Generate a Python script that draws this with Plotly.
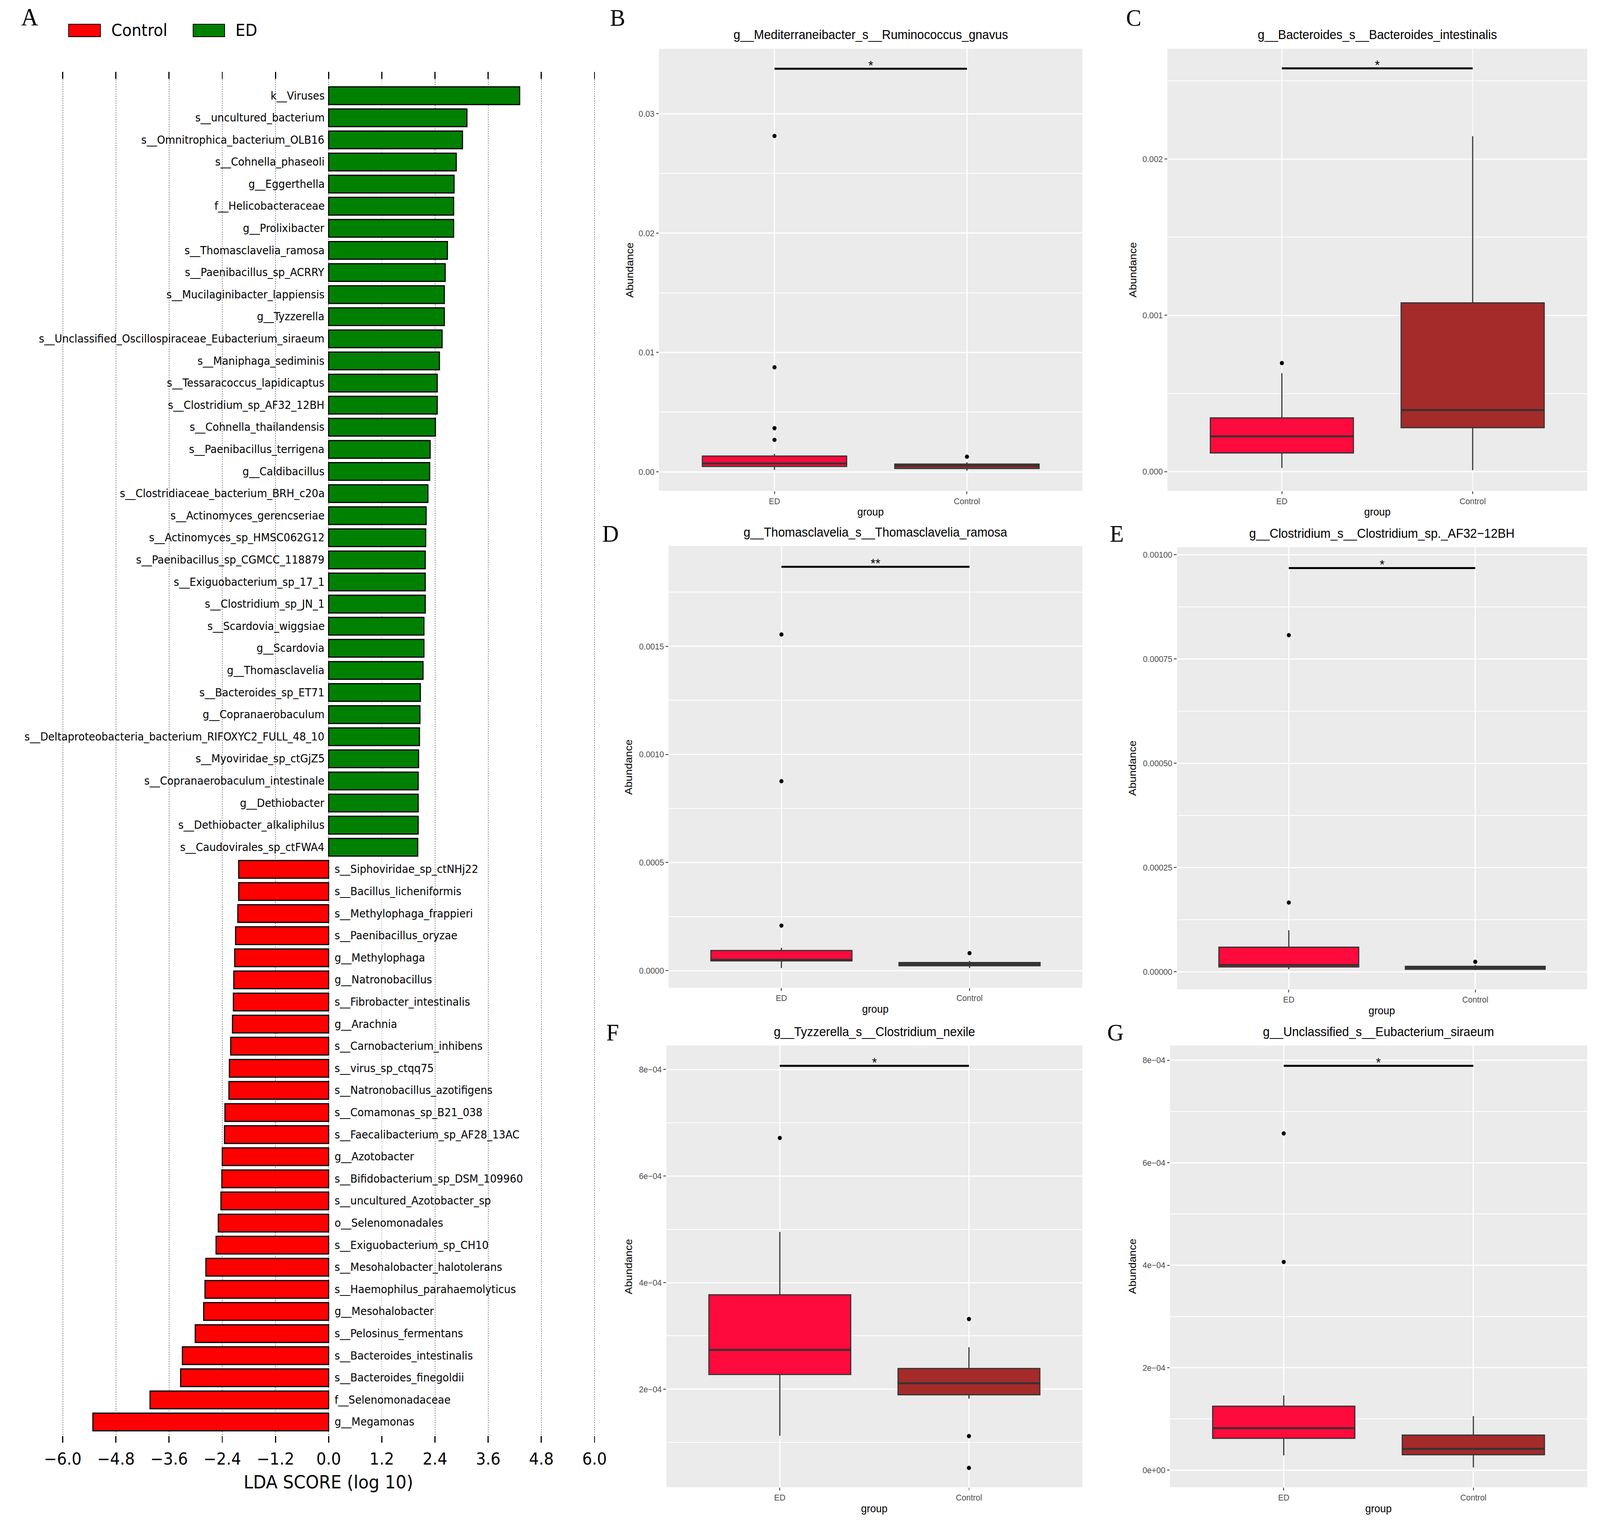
import plotly.graph_objects as go

W, H = 4328, 3897

# ---------------- Panel A data (LEfSe LDA scores) ----------------
lda_labels = [
    "k__Viruses", "s__uncultured_bacterium", "s__Omnitrophica_bacterium_OLB16",
    "s__Cohnella_phaseoli", "g__Eggerthella", "f__Helicobacteraceae", "g__Prolixibacter",
    "s__Thomasclavelia_ramosa", "s__Paenibacillus_sp_ACRRY", "s__Mucilaginibacter_lappiensis",
    "g__Tyzzerella", "s__Unclassified_Oscillospiraceae_Eubacterium_siraeum",
    "s__Maniphaga_sediminis", "s__Tessaracoccus_lapidicaptus", "s__Clostridium_sp_AF32_12BH",
    "s__Cohnella_thailandensis", "s__Paenibacillus_terrigena", "g__Caldibacillus",
    "s__Clostridiaceae_bacterium_BRH_c20a", "s__Actinomyces_gerencseriae",
    "s__Actinomyces_sp_HMSC062G12", "s__Paenibacillus_sp_CGMCC_118879",
    "s__Exiguobacterium_sp_17_1", "s__Clostridium_sp_JN_1", "s__Scardovia_wiggsiae",
    "g__Scardovia", "g__Thomasclavelia", "s__Bacteroides_sp_ET71", "g__Copranaerobaculum",
    "s__Deltaproteobacteria_bacterium_RIFOXYC2_FULL_48_10", "s__Myoviridae_sp_ctGjZ5",
    "s__Copranaerobaculum_intestinale", "g__Dethiobacter", "s__Dethiobacter_alkaliphilus",
    "s__Caudovirales_sp_ctFWA4",
    "s__Siphoviridae_sp_ctNHj22", "s__Bacillus_licheniformis", "s__Methylophaga_frappieri",
    "s__Paenibacillus_oryzae", "g__Methylophaga", "g__Natronobacillus",
    "s__Fibrobacter_intestinalis", "g__Arachnia", "s__Carnobacterium_inhibens",
    "s__virus_sp_ctqq75", "s__Natronobacillus_azotifigens", "s__Comamonas_sp_B21_038",
    "s__Faecalibacterium_sp_AF28_13AC", "g__Azotobacter", "s__Bifidobacterium_sp_DSM_109960",
    "s__uncultured_Azotobacter_sp", "o__Selenomonadales", "s__Exiguobacterium_sp_CH10",
    "s__Mesohalobacter_halotolerans", "s__Haemophilus_parahaemolyticus", "g__Mesohalobacter",
    "s__Pelosinus_fermentans", "s__Bacteroides_intestinalis", "s__Bacteroides_finegoldii",
    "f__Selenomonadaceae", "g__Megamonas",
]
lda_scores = [
    4.31, 3.12, 3.02, 2.88, 2.83, 2.82, 2.82, 2.68, 2.63, 2.61, 2.61, 2.56, 2.50, 2.45,
    2.45, 2.41, 2.29, 2.28, 2.24, 2.20, 2.19, 2.18, 2.18, 2.18, 2.15, 2.15, 2.13, 2.07,
    2.06, 2.05, 2.03, 2.02, 2.02, 2.02, 2.01,
    -2.03, -2.03, -2.05, -2.10, -2.12, -2.14, -2.15, -2.17, -2.21, -2.24, -2.25, -2.34,
    -2.35, -2.40, -2.41, -2.43, -2.49, -2.54, -2.77, -2.79, -2.82, -3.01, -3.30, -3.34,
    -4.03, -5.32,
]
lda_ticks = [-6.0, -4.8, -3.6, -2.4, -1.2, 0.0, 1.2, 2.4, 3.6, 4.8, 6.0]
lda_ticktext = ["\u22126.0", "\u22124.8", "\u22123.6", "\u22122.4", "\u22121.2", "0.0",
                "1.2", "2.4", "3.6", "4.8", "6.0"]
legend_groups = ["Control", "ED"]

# ---------------- Box panel data: [lower, q1, median, q3, upper] ----------------
groups = ["ED", "Control"]

B_title = "g__Mediterraneibacter_s__Ruminococcus_gnavus"
B_ED = [0.00017, 0.00045, 0.00070, 0.00132, 0.00150]
B_ED_out = [0.02814, 0.00876, 0.00366, 0.00268]
B_CT = [0.00010, 0.00028, 0.00050, 0.00065, 0.00080]
B_CT_out = [0.00127]
B_ticks = [0.0, 0.01, 0.02, 0.03]
B_ticktext = ["0.00", "0.01", "0.02", "0.03"]
B_sig = ["*", 0.03377]

C_title = "g__Bacteroides_s__Bacteroides_intestinalis"
C_ED = [0.000024, 0.000120, 0.000226, 0.000344, 0.000630]
C_ED_out = [0.000695]
C_CT = [0.000010, 0.000282, 0.000394, 0.001080, 0.002146]
C_CT_out = []
C_ticks = [0.0, 0.001, 0.002]
C_ticktext = ["0.000", "0.001", "0.002"]
C_sig = ["*", 0.00258]

D_title = "g__Thomasclavelia_s__Thomasclavelia_ramosa"
D_ED = [0.000012, 0.000045, 0.000050, 0.0000928, 0.000105]
D_ED_out = [0.001555, 0.000876, 0.000208]
D_CT = [0.000012, 0.0000225, 0.000030, 0.0000374, 0.000045]
D_CT_out = [0.0000808]
D_ticks = [0.0, 0.0005, 0.0010, 0.0015]
D_ticktext = ["0.0000", "0.0005", "0.0010", "0.0015"]
D_sig = ["**", 0.001868]

E_title = "g__Clostridium_s__Clostridium_sp._AF32\u221212BH"
E_ED = [0.0000062, 0.0000116, 0.0000163, 0.000059, 0.0000994]
E_ED_out = [0.000807, 0.000166]
E_CT = [0.000004, 0.000006, 0.000010, 0.0000132, 0.0000163]
E_CT_out = [0.000024]
E_ticks = [0.0, 0.00025, 0.0005, 0.00075, 0.001]
E_ticktext = ["0.00000", "0.00025", "0.00050", "0.00075", "0.00100"]
E_sig = ["*", 0.000968]

F_title = "g__Tyzzerella_s__Clostridium_nexile"
F_ED = [1.126e-4, 2.277e-4, 2.738e-4, 3.772e-4, 4.954e-4]
F_ED_out = [6.714e-4]
F_CT = [1.822e-4, 1.895e-4, 2.111e-4, 2.388e-4, 2.788e-4]
F_CT_out = [3.317e-4, 1.12e-4, 0.523e-4]
F_ticks = [2e-4, 4e-4, 6e-4, 8e-4]
F_ticktext = ["2e\u221204", "4e\u221204", "6e\u221204", "8e\u221204"]
F_sig = ["*", 8.068e-4]

G_title = "g__Unclassified_s__Eubacterium_siraeum"
G_ED = [0.288e-4, 0.621e-4, 0.819e-4, 1.248e-4, 1.459e-4]
G_ED_out = [6.573e-4, 4.064e-4]
G_CT = [0.051e-4, 0.301e-4, 0.416e-4, 0.685e-4, 1.056e-4]
G_CT_out = []
G_ticks = [0.0, 2e-4, 4e-4, 6e-4, 8e-4]
G_ticktext = ["0e+00", "2e\u221204", "4e\u221204", "6e\u221204", "8e\u221204"]
G_sig = ["*", 7.891e-4]

# ---------------- styling / layout constants ----------------
ED_FILL = "#FF0A3C"
CT_FILL = "#A52A2A"
GREEN = "#008000"
RED = "#FF0000"
SANS = "Liberation Sans"
SERIF = "Liberation Serif"
BOX_W = 0.75


def px(x):
    return x / W


def py(y):
    return 1 - y / H


def paper_text(x, y, text, font, xanchor="center", yanchor="middle", **kw):
    d = dict(x=px(x), y=py(y), xref="paper", yref="paper", text=text, showarrow=False,
             xanchor=xanchor, yanchor=yanchor, font=font)
    d.update(kw)
    return d


fig = go.Figure()
annotations = []
shapes = []

# ---------------- Panel A ----------------
idx = list(range(len(lda_labels)))
bar_colors = [GREEN if v > 0 else RED for v in lda_scores]
fig.add_trace(go.Bar(
    x=lda_scores, y=idx, orientation="h", width=0.8,
    marker=dict(color=bar_colors, line=dict(color="black", width=3)),
    xaxis="x", yaxis="y", showlegend=False, hoverinfo="skip"))
# invisible trace for top tick axis
fig.add_trace(go.Scatter(x=[lda_ticks[0], lda_ticks[-1]], y=[0, 0], mode="markers",
                         marker=dict(opacity=0), xaxis="x8", yaxis="y",
                         showlegend=False, hoverinfo="skip"))
for i, (lab, v) in enumerate(zip(lda_labels, lda_scores)):
    annotations.append(dict(
        x=0, y=i, xref="x", yref="y", text=lab, showarrow=False,
        xanchor="right" if v > 0 else "left", yanchor="middle",
        xshift=-9 if v > 0 else 14,
        font=dict(family="DejaVu Sans", size=28, color="black")))

annotations.append(paper_text(868, 3795, "LDA SCORE (log 10)",
                              dict(family="DejaVu Sans", size=46, color="black")))
# legend
leg_cols = [RED, GREEN]
leg_x = [(158, 245, 273), (498, 584, 612)]
for name, col, (x0, x1, xt) in zip(legend_groups, leg_cols, leg_x):
    shapes.append(dict(type="rect", xref="paper", yref="paper", x0=px(x0), x1=px(x1),
                       y0=py(94), y1=py(62), fillcolor=col, line=dict(color="black", width=2)))
    annotations.append(paper_text(xt, 78, name,
                                  dict(family="DejaVu Sans", size=42, color="black"),
                                  xanchor="left"))

# ---------------- Box panels ----------------
panels = [
    (2, "B", B_title, B_ED, B_ED_out, B_CT, B_CT_out, B_ticks, B_ticktext, B_sig,
     (1770, 2926, 125, 1257), (1657, 45), 1689, [-0.0016, 0.03544], [0.005, 0.015, 0.025]),
    (3, "C", C_title, C_ED, C_ED_out, C_CT, C_CT_out, C_ticks, C_ticktext, C_sig,
     (3158, 4304, 125, 1257), (3066, 45), 3063, [-0.000123, 0.002705], [0.0005, 0.0015, 0.0025]),
    (4, "D", D_title, D_ED, D_ED_out, D_CT, D_CT_out, D_ticks, D_ticktext, D_sig,
     (1796, 2926, 1398, 2529), (1638, 1366), 1687, [-0.0000793, 0.001964],
     [0.00025, 0.00075, 0.00125, 0.00175]),
    (5, "E", E_title, E_ED, E_ED_out, E_CT, E_CT_out, E_ticks, E_ticktext, E_sig,
     (3184, 4304, 1401, 2533), (3020, 1366), 3063, [-0.0000419, 0.001018],
     [0.000125, 0.000375, 0.000625, 0.000875]),
    (6, "F", F_title, F_ED, F_ED_out, F_CT, F_CT_out, F_ticks, F_ticktext, F_sig,
     (1790, 2926, 2677, 3808), (1643, 2643), 1687, [0.000016, 0.0008449],
     [1e-4, 3e-4, 5e-4, 7e-4]),
    (7, "G", G_title, G_ED, G_ED_out, G_CT, G_CT_out, G_ticks, G_ticktext, G_sig,
     (3165, 4304, 2677, 3808), (3016, 2643), 3063, [-0.0000333, 0.0008288],
     [1e-4, 3e-4, 5e-4, 7e-4]),
]

layout_axes = {}
for (n, letter, title, s_ed, o_ed, s_ct, o_ct, ticks, ticktext, sig,
     (l, r, t, b), (lx, ly), abx, yrange, minor) in panels:
    xa, ya = f"x{n}", f"y{n}"
    for xpos, st, outs, col in [(1, s_ed, o_ed, ED_FILL), (2, s_ct, o_ct, CT_FILL)]:
        fig.add_trace(go.Box(
            x=[xpos], lowerfence=[st[0]], q1=[st[1]], median=[st[2]], q3=[st[3]],
            upperfence=[st[4]], fillcolor=col, line=dict(color="#333333", width=3),
            width=BOX_W, whiskerwidth=0, boxpoints=False, xaxis=xa, yaxis=ya,
            showlegend=False, hoverinfo="skip"))
        # bolder median bar (ggplot style)
        fig.add_trace(go.Scatter(
            x=[xpos - BOX_W / 2, xpos + BOX_W / 2], y=[st[2], st[2]], mode="lines",
            line=dict(color="#333333", width=5), xaxis=xa, yaxis=ya,
            showlegend=False, hoverinfo="skip"))
        if outs:
            fig.add_trace(go.Scatter(
                x=[xpos] * len(outs), y=outs, mode="markers",
                marker=dict(color="black", size=11), xaxis=xa, yaxis=ya,
                showlegend=False, hoverinfo="skip"))
    fig.add_trace(go.Scatter(x=[1, 2], y=[sig[1], sig[1]], mode="lines",
                             line=dict(color="black", width=5), xaxis=xa, yaxis=ya,
                             showlegend=False, hoverinfo="skip"))
    annotations.append(dict(x=1.5, y=sig[1], xref=xa, yref=ya, text=sig[0],
                            showarrow=False, xanchor="center", yanchor="middle", yshift=9,
                            font=dict(family=SANS, size=34, color="black")))
    shapes.append(dict(type="rect", xref=f"{xa} domain", yref=f"{ya} domain",
                       x0=0, x1=1, y0=0, y1=1, fillcolor="#EBEBEB",
                       line=dict(width=0), layer="below"))
    annotations.append(paper_text((l + r) / 2, t - 36, title,
                                  dict(family=SANS, size=33, color="black")))
    annotations.append(paper_text(lx, ly, letter, dict(family=SERIF, size=62, color="black")))
    annotations.append(paper_text((l + r) / 2, b + 54, "group",
                                  dict(family=SANS, size=28, color="black")))
    annotations.append(paper_text(abx, (t + b) / 2, "Abundance",
                                  dict(family=SANS, size=28, color="black"), textangle=-90))
    layout_axes[f"xaxis{n}"] = dict(
        domain=[px(l), px(r)], anchor=ya, range=[0.4, 2.6], tickvals=[1, 2],
        ticktext=groups, showgrid=True, gridcolor="white", gridwidth=3,
        ticks="outside", ticklen=7, tickwidth=2, tickcolor="#333333",
        tickfont=dict(family=SANS, size=22, color="#4D4D4D"),
        zeroline=False, showline=False, fixedrange=True)
    layout_axes[f"yaxis{n}"] = dict(
        domain=[py(b), py(t)], anchor=xa, range=yrange, tickvals=ticks,
        ticktext=ticktext, showgrid=True, gridcolor="white", gridwidth=3,
        minor=dict(tickvals=minor, showgrid=True, gridcolor="white", gridwidth=1.5),
        ticks="outside", ticklen=7, tickwidth=2, tickcolor="#333333",
        tickfont=dict(family=SANS, size=22, color="#4D4D4D"),
        zeroline=False, showline=False, fixedrange=True)

annotations.append(paper_text(51, 43, "A", dict(family=SERIF, size=64, color="black")))

a_range = [-6.182, 6.182]
fig.update_layout(
    width=W, height=H, margin=dict(l=0, r=0, t=0, b=0),
    paper_bgcolor="white", plot_bgcolor="rgba(0,0,0,0)",
    xaxis=dict(domain=[px(120), px(1616)], range=a_range, anchor="y",
               tickvals=lda_ticks, ticktext=lda_ticktext, ticks="outside", ticklen=17,
               tickwidth=3, tickcolor="black", showgrid=True, gridcolor="#8a8a8a",
               gridwidth=2, griddash="dot", zeroline=False, showline=False,
               ticklabelstandoff=6,
               tickfont=dict(family="DejaVu Sans", size=42, color="black")),
    xaxis8=dict(overlaying="x", side="top", anchor="y", range=a_range,
                tickvals=lda_ticks, ticks="outside", ticklen=18, tickwidth=3,
                tickcolor="black", showticklabels=False, showgrid=False,
                zeroline=False, showline=False),
    yaxis=dict(domain=[py(3676), py(203)], range=[60.62, -0.742], visible=False,
               showgrid=False, zeroline=False),
    annotations=annotations, shapes=shapes,
    **layout_axes,
)

# fit the fixed-size figure exactly into the browser viewport
fit_js = """
var gd = document.getElementById('{plot_id}');
var de = document.documentElement, bd = document.body;
de.style.margin = '0'; de.style.padding = '0'; de.style.overflow = 'hidden';
bd.style.margin = '0'; bd.style.padding = '0'; bd.style.overflow = 'hidden';
gd.style.position = 'fixed'; gd.style.left = '0px'; gd.style.top = '0px';
var sx = window.innerWidth / %d, sy = window.innerHeight / %d;
gd.style.transformOrigin = '0 0';
gd.style.transform = 'scale(' + sx + ',' + sy + ')';
""" % (W, H)

fig.write_html("out.html", post_script=fit_js, config={"displayModeBar": False})
